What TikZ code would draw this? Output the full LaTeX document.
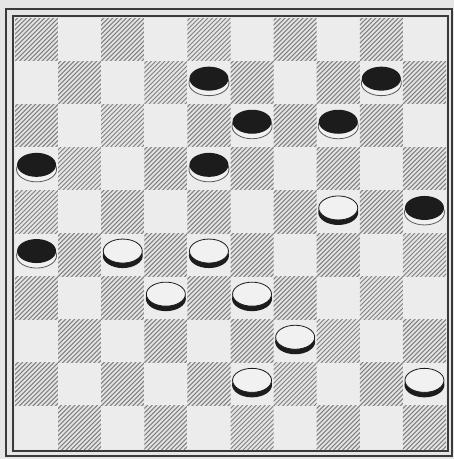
\documentclass[tikz,border=0pt]{standalone}
\definecolor{paper}{HTML}{E4E5E4}
\definecolor{lightsq}{HTML}{EBECEB}
\definecolor{hatchc}{HTML}{808080}
\definecolor{framec}{HTML}{3A3A3A}
\definecolor{piecedark}{HTML}{1C1C1C}
\definecolor{piecelight}{HTML}{F1F1F1}
\tikzset{
  hatchline/.style={hatchc, line width=1pt},
  framethin/.style={framec, line width=1.1pt},
  framethick/.style={framec, line width=2pt},
  bpiece/.pic={
    \draw[draw=black!65, line width=0.8pt, fill=piecelight] (0,0.5) ellipse[x radius=20, y radius=12.5];
    \fill[piecedark] (0,-4) ellipse[x radius=19.5, y radius=12];
  },
  wpiece/.pic={
    \fill[piecedark] (0,0.5) ellipse[x radius=20, y radius=12.5];
    \draw[draw=piecedark, line width=0.8pt, fill=piecelight] (0,-4) ellipse[x radius=19.5, y radius=12];
  }
}
\begin{document}
\begin{tikzpicture}[x=1pt,y=-1pt]
\useasboundingbox (0,0) rectangle (454,459);
\fill[paper] (0,0) rectangle (454,459);
\def\bx{15}\def\by{18}\def\sq{43.1}
% squares
\foreach \r in {0,...,9} {
  \foreach \c in {0,...,9} {
    \pgfmathtruncatemacro\odd{mod(\r+\c,2)}
    \pgfmathsetmacro\xa{\bx+\c*\sq}
    \pgfmathsetmacro\ya{\by+\r*\sq}
    \ifnum\odd=0
      \begin{scope}
        \clip (\xa,\ya) rectangle ++(\sq,\sq);
        \foreach \k in {-46,-41.5,...,46} {
          \draw[hatchline] (\xa+\k,\ya+\sq+1) -- ++(\sq+2,-\sq-2);
        }
      \end{scope}
    \else
      \fill[lightsq] (\xa,\ya) rectangle ++(\sq,\sq);
    \fi
  }
}
% frame
\draw[framethin] (13,16) rectangle (448,451);
\draw[framethick] (5.5,8.5) rectangle (452,456);
% black pieces (row, col)
\foreach \r/\c in {1/4, 1/8, 2/5, 2/7, 3/0, 3/4, 4/9, 5/0} {
  \pic at ({\bx+(\c+0.5)*\sq},{\by+(\r+0.5)*\sq}) {bpiece};
}
% white pieces
\foreach \r/\c in {4/7, 5/2, 5/4, 6/3, 6/5, 7/6, 8/5, 8/9} {
  \pic at ({\bx+(\c+0.5)*\sq},{\by+(\r+0.5)*\sq}) {wpiece};
}
\end{tikzpicture}
\end{document}
